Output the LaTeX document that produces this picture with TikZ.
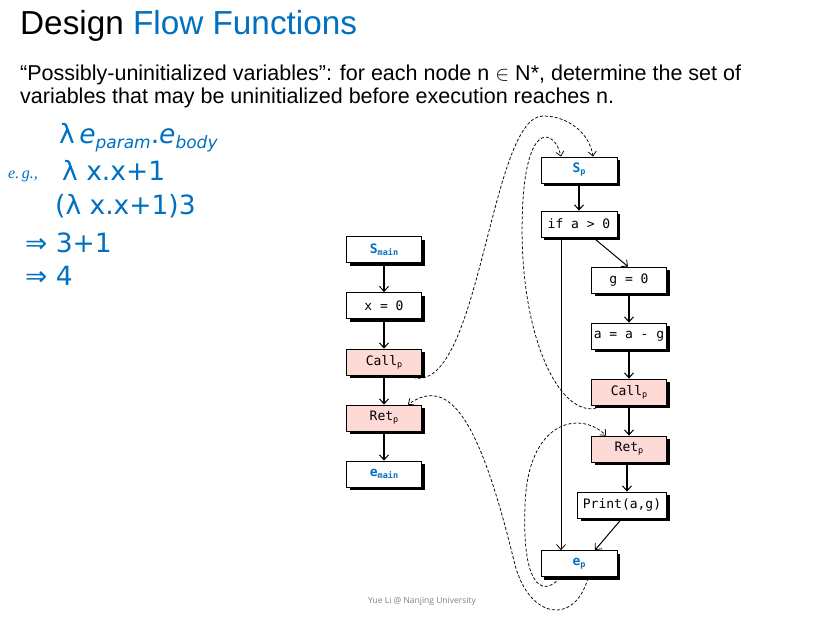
\documentclass[tikz,border=0pt]{standalone}
\usepackage{fontspec}
\setmainfont{Liberation Sans}
\newfontfamily\monofont{DejaVu Sans Mono}
\newfontfamily\lamfont{DejaVu Sans}
\newfontfamily\footfont{Open Sans}
\newfontfamily\egfont{Liberation Serif}
\usetikzlibrary{arrows.meta,shadows}
\definecolor{ppblue}{RGB}{0,112,192}
\definecolor{callpink}{RGB}{253,218,213}
\newcommand\lowsub[1]{\raisebox{-2pt}{\fontsize{8.5}{8.5}\selectfont #1}}
\newcommand\lamsub[1]{\raisebox{-5pt}{\fontsize{17}{17}\selectfont\textit{#1}}}
\tikzset{
  cfgbox/.style={draw=black, line width=0.8pt, fill=white, minimum width=75pt,
    minimum height=26pt, inner sep=0pt, font=\monofont\fontsize{13}{14}\selectfont,
    general shadow={fill=black, shadow xshift=3.2pt, shadow yshift=-3.2pt}},
  callbox/.style={cfgbox, fill=callpink},
  flow/.style={line width=1.2pt, -{Straight Barb[length=5pt,width=9pt,line width=1pt]}},
  thinflow/.style={line width=1pt, -{Straight Barb[length=5pt,width=9pt,line width=0.8pt]}},
  interflow/.style={dash pattern=on 3pt off 2pt, line width=0.75pt,
    -{Straight Barb[length=4.5pt,width=8pt,line width=0.75pt]}},
  lam/.style={anchor=base west, inner sep=0pt, text=ppblue, font=\lamfont\fontsize{26.5}{28}\selectfont},
  txt/.style={anchor=base west, inner sep=0pt}
}
\begin{document}
\begin{tikzpicture}[x=1pt,y=-1pt]
\useasboundingbox[fill=white] (0,0) rectangle (827,626);

% header
\node[txt, font=\fontsize{33.3}{34}\selectfont] (title) at (20,35) {Design \textcolor{ppblue}{Flow Functions}};
\node[txt, font=\fontsize{21.5}{22}\selectfont] (desc1) at (20,81) {“Possibly-uninitialized variables”: for each node n $\in$ N*, determine the set of};
\node[txt, font=\fontsize{21.5}{22}\selectfont] (desc2) at (20,103) {variables that may be uninitialized before execution reaches n.};

% lambda block
\node[lam] (l1) at (59,143) {λ\,\textit{e}\lamsub{param}.\textit{e}\lamsub{body}};
\node[txt, text=ppblue, font=\egfont\fontsize{16}{16}\selectfont\itshape] (eg) at (8,178) {e.\,g.,};
\node[lam] (l2) at (62,180) {λ x.x+1};
\node[lam] (l3) at (55,214) {(λ x.x+1)3};
\node[lam] (l4) at (25,252) {⇒ 3+1};
\node[lam] (l5) at (25,285) {⇒ 4};

% main
\node[cfgbox] (smain) at (384,249.5) {\textcolor{ppblue}{\bfseries S\lowsub{main}}};
\node[cfgbox] (x0) at (384,305.5) {x = 0};
\node[callbox] (callm) at (384,362) {Call\lowsub{p}};
\node[callbox] (retm) at (384,418) {Ret\lowsub{p}};
\node[cfgbox] (emain) at (384,474) {\textcolor{ppblue}{\bfseries e\lowsub{main}}};

% procedure p
\node[cfgbox, minimum width=76pt] (sp) at (579,170) {\textcolor{ppblue}{\bfseries S\lowsub{p}}};
\node[cfgbox, minimum width=76pt] (ifn) at (579,224) {if a > 0};
\node[cfgbox] (g0) at (629,280) {g = 0};
\node[cfgbox] (aag) at (629,336) {a = a - g};
\node[callbox] (callp) at (629,392) {Call\lowsub{p}};
\node[callbox] (retp) at (629,449) {Ret\lowsub{p}};
\node[cfgbox, minimum width=89pt] (print) at (622,505) {Print(a,g)};
\node[cfgbox, minimum width=76pt] (ep) at (579,563.5) {\textcolor{ppblue}{\bfseries e\lowsub{p}}};

% footer
\node[inner sep=0pt, text=black!50, font=\footfont\fontsize{8.5}{9}\selectfont] (foot) at (422,601) {Yue Li @ Nanjing University};

% intra edges
\draw[flow] (smain) -- (x0);
\draw[flow] (x0) -- (callm);
\draw[flow] (callm) -- (retm);
\draw[flow] (retm) -- (emain);
\draw[flow] (sp) -- (ifn);
\draw[thinflow] ([xshift=14pt]ifn.south) -- ([xshift=-1pt]g0.north);
\draw[thinflow] ([xshift=-18pt]ifn.south) -- ([xshift=-18pt]ep.north);
\draw[flow] (g0) -- (aag);
\draw[flow] (aag) -- (callp);
\draw[flow] (callp) -- (retp);
\draw[flow] ([xshift=-2pt]retp.south) -- ([xshift=-2pt]retp.south |- print.north);
\draw[thinflow] (print.south) -- ([xshift=16pt]ep.north);

% inter edges
\draw[interflow] ([xshift=-9pt,yshift=-2pt]callm.south east) .. controls (480,395) and (490,116) .. (543,116)
   .. controls (570,116) and (590,135) .. ([xshift=14pt]sp.north);
\draw[interflow] ([xshift=10pt,yshift=-1pt]callp.south west) .. controls (560,425) and (515,330) .. (523,200)
   .. controls (528,120) and (555,130) .. ([xshift=-18pt]sp.north);
\draw[interflow] ([xshift=-19pt,yshift=-1pt]ep.south) .. controls (540,600) and (522,580) .. (525,507)
   .. controls (527,420) and (580,410) .. ([xshift=15pt]retp.north west);
\draw[interflow] ([xshift=9pt,yshift=-1pt]ep.south) .. controls (575,625) and (530,620) .. (515,565)
   .. controls (480,420) and (450,375) .. ([xshift=-14pt]retm.north east);
\end{tikzpicture}
\end{document}
